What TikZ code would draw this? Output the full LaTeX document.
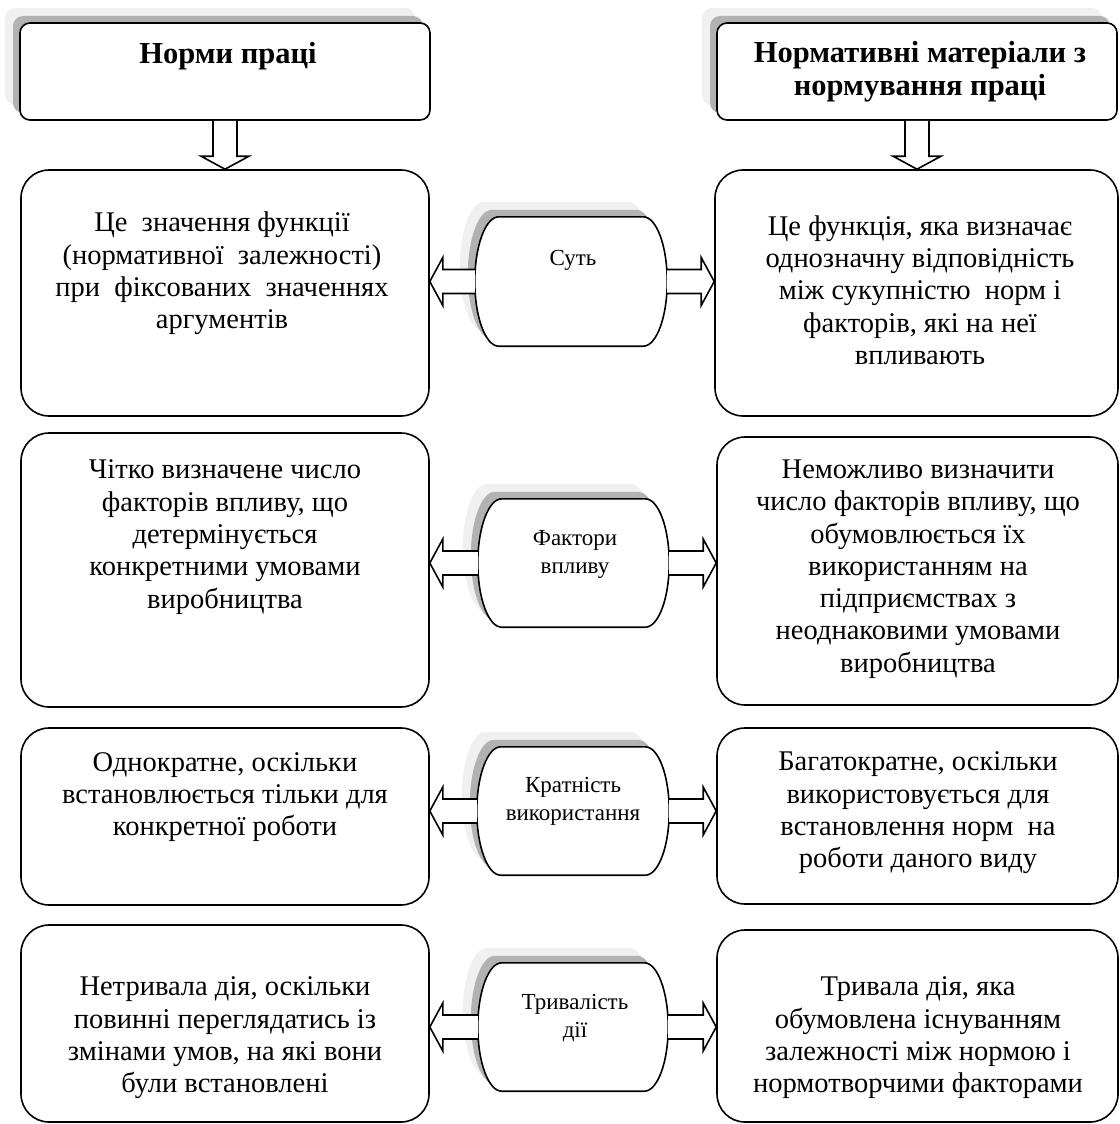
\documentclass[tikz,border=0pt]{standalone}
\usepackage{fontspec}
\setmainfont{Liberation Serif}
\usetikzlibrary{calc,shadows}

\tikzset{
  twoshadows/.style={
    general shadow={shadow xshift=-15pt,shadow yshift=15pt,fill=black!6},
    general shadow={shadow xshift=-7pt,shadow yshift=7pt,fill=black!30}},
  headbox/.style={draw,line width=1.6pt,rounded corners=10pt,fill=white,
    inner sep=0pt,twoshadows},
  rowbox/.style={draw,line width=1.6pt,rounded corners=28pt,inner sep=0pt},
  capsule/.style={inner sep=0pt,minimum width=192pt,minimum height=128pt},
  headtext/.style={align=center,inner sep=0pt,
    font=\fontsize{30.5}{33}\selectfont\bfseries},
  bodytext/.style={align=center,inner sep=0pt,
    font=\fontsize{28.5}{32.3}\selectfont},
  midtext/.style={align=center,inner sep=0pt,
    font=\fontsize{23}{28}\selectfont},
  arrline/.style={line width=1.6pt,fill=white,line join=miter},
}

% outline of a capsule node with elliptic ends
\newcommand{\capsulepath}[2][]{%
  \path[#1] let \p1=(#2.north west), \p2=(#2.south east),
    \n1={(\y1-\y2)/2} in
    (\x1+24pt,\y1) -- (\x2-24pt,\y1)
    arc[start angle=90,end angle=-90,x radius=24pt,y radius={\n1*1pt}]
    -- (\x1+24pt,\y2)
    arc[start angle=270,end angle=90,x radius=24pt,y radius={\n1*1pt}]
    -- cycle;
}
\newcommand{\drawcapsule}[1]{%
  \capsulepath[fill=black!6,transform canvas={shift={(-15pt,15pt)}}]{#1}
  \capsulepath[fill=black!30,transform canvas={shift={(-7pt,7pt)}}]{#1}
  \capsulepath[draw,fill=white,line width=1.6pt]{#1}
}

% hollow block arrow from #1 to tip #2
\newcommand{\hollowarrow}[2]{%
  \coordinate (neck) at ($(#2)!13pt!(#1)$);
  \draw[arrline] ($(#1)!12pt!90:(#2)$) -- ($(neck)!12pt!90:(#2)$)
    -- ($(neck)!24pt!90:(#2)$) -- (#2) -- ($(neck)!24pt!-90:(#2)$)
    -- ($(neck)!12pt!-90:(#2)$) -- ($(#1)!12pt!-90:(#2)$);
}

\begin{document}
\begin{tikzpicture}[x=1pt,y=-1pt]
  \useasboundingbox (0,0) rectangle (1119,1124);

  % headers
  \node[headbox,minimum width=410pt,minimum height=97pt] (hl) at (225,71.5) {};
  \node[headbox,minimum width=400pt,minimum height=97pt] (hr) at (917,71.5) {};
  \node[headtext] (hltxt) at (228,56) {Норми праці};
  \node[headtext] (hrtxt) at (920,72) {Нормативні матеріали з\\нормування праці};

  % boxes
  \node[rowbox,minimum width=408pt,minimum height=246pt] (r1l) at (225,293) {};
  \node[rowbox,minimum width=403pt,minimum height=246pt] (r1r) at (916.5,293) {};
  \node[rowbox,minimum width=408pt,minimum height=274pt] (r2l) at (225,570) {};
  \node[rowbox,minimum width=401pt,minimum height=268pt] (r2r) at (917.5,571) {};
  \node[rowbox,minimum width=408pt,minimum height=177pt] (r3l) at (225,816.5) {};
  \node[rowbox,minimum width=401pt,minimum height=176pt] (r3r) at (917.5,816) {};
  \node[rowbox,minimum width=408pt,minimum height=197pt] (r4l) at (225,1023.5) {};
  \node[rowbox,minimum width=401pt,minimum height=192pt] (r4r) at (917.5,1026) {};

  \node[bodytext] (r1ltxt) at (222,273.5)
    {Це\ \ значення функції\\(нормативної\ \ залежності)\\при\ \ фіксованих\ \ значеннях\\аргументів};
  \node[bodytext] (r1rtxt) at (920,290)
    {Це функція, яка визначає\\однозначну відповідність\\між сукупністю\ \ норм і\\факторів, які на неї\\впливають};
  \node[bodytext] (r2ltxt) at (225,537)
    {Чітко визначене число\\факторів впливу, що\\детермінується\\конкретними умовами\\виробництва};
  \node[bodytext] (r2rtxt) at (918,569)
    {Неможливо визначити\\число факторів впливу, що\\обумовлюється їх\\використанням на\\підприємствах з\\неоднаковими умовами\\виробництва};
  \node[bodytext] (r3ltxt) at (225,797)
    {Однократне, оскільки\\встановлюється тільки для\\конкретної роботи};
  \node[bodytext] (r3rtxt) at (918,813)
    {Багатократне, оскільки\\використовується для\\встановлення норм\ \ на\\роботи даного виду};
  \node[bodytext] (r4ltxt) at (225,1038)
    {Нетривала дія, оскільки\\повинні переглядатись із\\змінами умов, на які вони\\були встановлені};
  \node[bodytext] (r4rtxt) at (918,1038)
    {Тривала дія, яка\\обумовлена існуванням\\залежності між нормою і\\нормотворчими факторами};

  % middle capsules
  \node[capsule,minimum height=129pt] (sut) at (571,281.5) {};
  \node[capsule,minimum width=191pt] (fakt) at (573.5,563) {};
  \node[capsule] (krat) at (573,811) {};
  \node[capsule,minimum width=190pt] (tryv) at (573,1027) {};
  \drawcapsule{sut}
  \drawcapsule{fakt}
  \drawcapsule{krat}
  \drawcapsule{tryv}
  \node[midtext] (suttxt) at (573,260) {Суть};
  \node[midtext] (fakttxt) at (575,554) {Фактори\\впливу};
  \node[midtext] (krattxt) at (573,801) {Кратність\\використання};
  \node[midtext] (tryvtxt) at (575,1018) {Тривалість\\дії};

  % arrows
  \hollowarrow{hl.south}{hl.south |- r1l.north}
  \hollowarrow{hr.south}{hr.south |- r1r.north}
  \hollowarrow{sut.west}{sut.west -| r1l.east}
  \hollowarrow{sut.east}{sut.east -| r1r.west}
  \hollowarrow{fakt.west}{fakt.west -| r2l.east}
  \hollowarrow{fakt.east}{fakt.east -| r2r.west}
  \hollowarrow{krat.west}{krat.west -| r3l.east}
  \hollowarrow{krat.east}{krat.east -| r3r.west}
  \hollowarrow{tryv.west}{tryv.west -| r4l.east}
  \hollowarrow{tryv.east}{tryv.east -| r4r.west}
\end{tikzpicture}
\end{document}
